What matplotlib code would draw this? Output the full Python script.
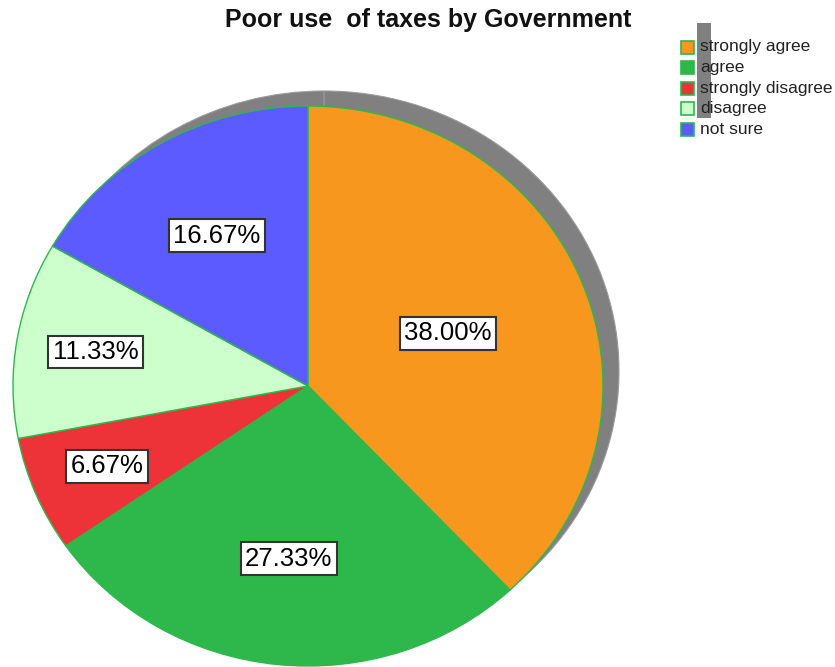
"""Pie chart: Poor use of taxes by Government (survey responses)."""
import matplotlib
matplotlib.use("Agg")
import matplotlib.pyplot as plt
from matplotlib.patches import Wedge, Rectangle
from matplotlib.transforms import Affine2D
import numpy as np

plt.rcParams["font.family"] = ["Liberation Sans", "DejaVu Sans"]

categories = ["strongly agree", "agree", "strongly disagree", "disagree", "not sure"]
percents = [38.00, 27.33, 6.67, 11.33, 16.67]
colors = ["#F7971E", "#2EB84B", "#EE3338", "#CCFFCC", "#5B5BFF"]
title = "Poor use  of taxes by Government"

EDGE = "#2EB84B"
W, H = 835, 667
CX, CY, RX, RY = 308, 386, 295, 280
SHIFT = (16, -15)
# radial position of each label, as a fraction of the radius
label_r = [0.51, 0.62, 0.74, 0.73, 0.62]

fig = plt.figure(figsize=(W / 100, H / 100), dpi=100)
ax = fig.add_axes([0, 0, 1, 1])
ax.set_xlim(0, W)
ax.set_ylim(H, 0)
ax.axis("off")


def ellipse_tf(cx, cy):
    return Affine2D().scale(RX, -RY).translate(cx, cy) + ax.transData


total = sum(percents)
bounds = np.concatenate([[0], np.cumsum(percents)]) / total

# gray depth behind the pie
for s, e in zip(bounds[:-1], bounds[1:]):
    ax.add_patch(Wedge((0, 0), 1, 90 - 360 * e, 90 - 360 * s,
                       transform=ellipse_tf(CX + SHIFT[0], CY + SHIFT[1]),
                       facecolor="#808080", edgecolor="#9a9a9a", linewidth=0.8))

for (s, e), c in zip(zip(bounds[:-1], bounds[1:]), colors):
    ax.add_patch(Wedge((0, 0), 1, 90 - 360 * e, 90 - 360 * s,
                       transform=ellipse_tf(CX, CY),
                       facecolor=c, edgecolor=EDGE, linewidth=1.0))

for (s, e), p, r in zip(zip(bounds[:-1], bounds[1:]), percents, label_r):
    mid = np.deg2rad(90 - 360 * (s + e) / 2)
    x = CX + RX * r * np.cos(mid)
    y = CY - RY * r * np.sin(mid)
    ax.text(x, y, f"{p:.2f}%", ha="center", va="center", fontsize=18.5,
            color="black",
            bbox=dict(boxstyle="square,pad=0.17", facecolor="white",
                      edgecolor="#333333", linewidth=1.5))

ax.text(428, 20, title, ha="center", va="center", fontsize=18,
        fontweight="bold", color="#111111")

# legend
ax.add_patch(Rectangle((697, 23), 14, 95, facecolor="#808080", edgecolor="none"))
for i, (lab, c) in enumerate(zip(categories, colors)):
    yc = 47 + i * 20.5
    ax.add_patch(Rectangle((681, yc - 6.5), 13, 13, facecolor=c,
                           edgecolor=EDGE, linewidth=1.2))
    ax.text(700, yc, lab, ha="left", va="center", fontsize=12.5, color="#222222")

fig.savefig("out.png", dpi=100)
